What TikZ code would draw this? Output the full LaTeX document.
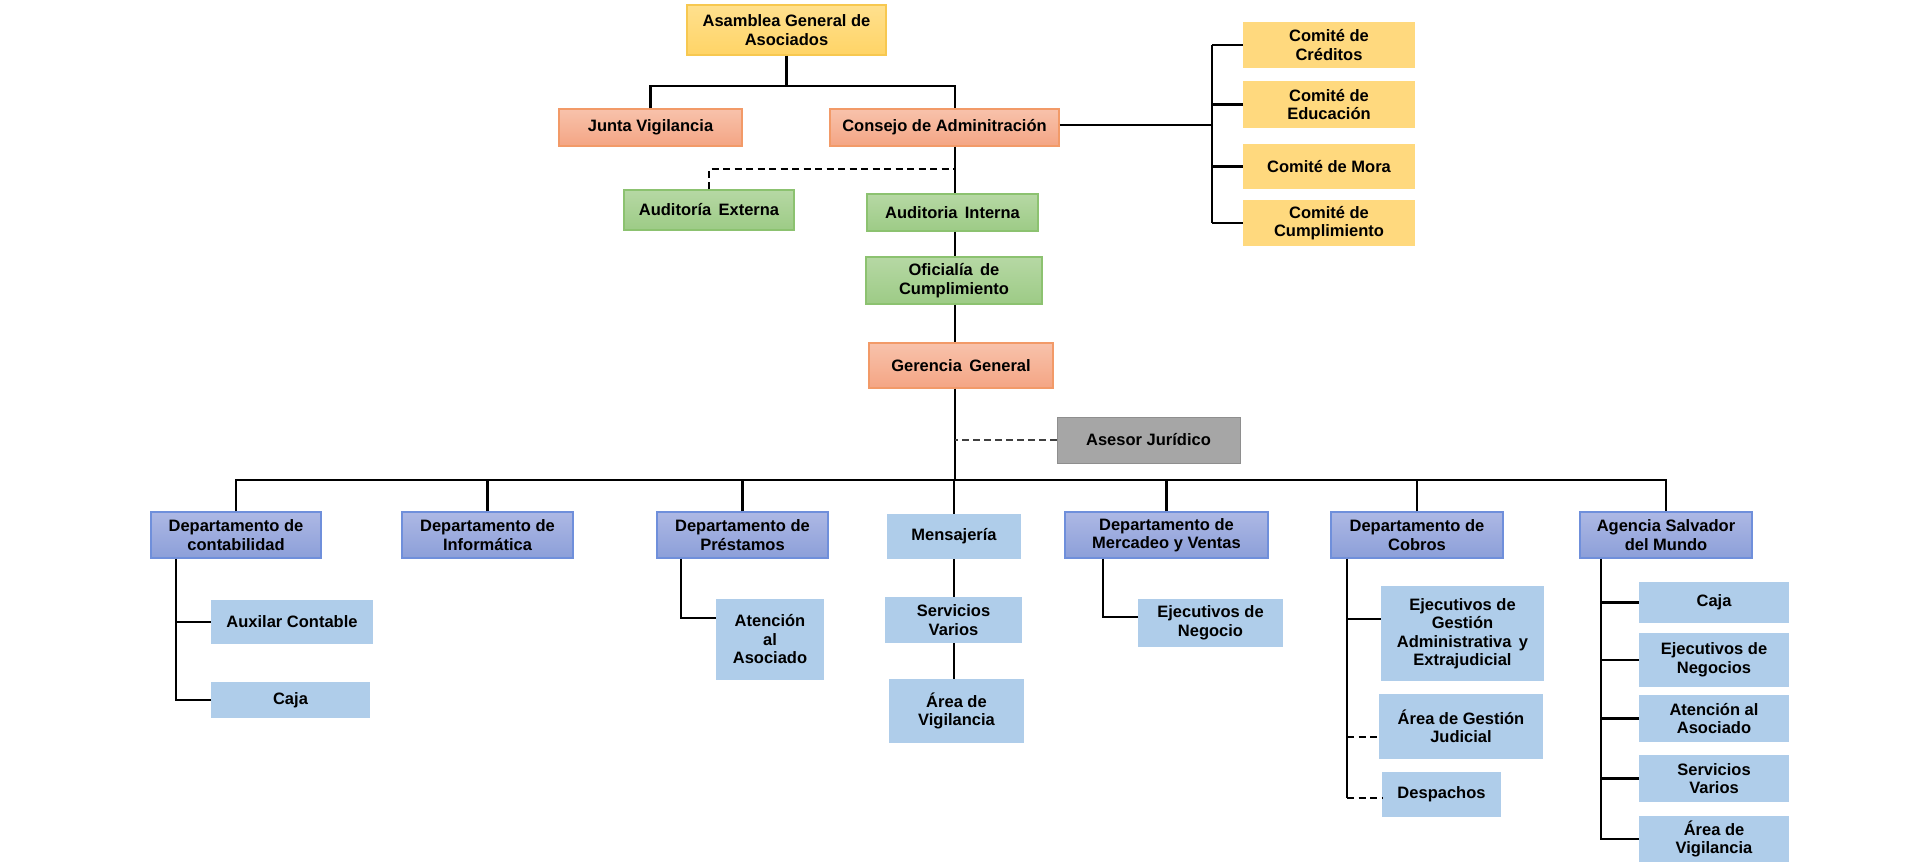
\documentclass[tikz,border=0pt]{standalone}
\usepackage{fontspec}
\setmainfont{Liberation Sans}
\begin{document}
\begin{tikzpicture}[x=1pt,y=-1pt,
  base/.style={align=center, inner sep=0pt, font=\bfseries\fontsize{16.5}{18.5}\selectfont, text=black},
  yel/.style={base, draw=yelD, line width=1.2pt, top color=ylwT, bottom color=ylwB},
  com/.style={base, fill=ylwC},
  sal/.style={base, draw=salD, line width=1.2pt, top color=salT, bottom color=salB},
  grn/.style={base, draw=grnD, line width=1.2pt, top color=grnT, bottom color=grnB},
  dep/.style={base, draw=depD, line width=1.2pt, top color=depT, bottom color=depB},
  lb/.style={base, fill=lbF},
  gry/.style={base, draw=gryD, line width=1pt, fill=gryF},
  conn/.style={draw=black, line width=2.2pt},
  dconn/.style={draw=black, line width=1.6pt, dash pattern=on 7pt off 4.5pt},
  gconn/.style={draw=black!75, line width=1.3pt, dash pattern=on 7pt off 4pt}
]
\definecolor{yelD}{HTML}{F7C850}
\definecolor{ylwT}{HTML}{FFE08E}
\definecolor{ylwB}{HTML}{FFD466}
\definecolor{ylwC}{HTML}{FFD97E}
\definecolor{salT}{HTML}{F8C2AB}
\definecolor{salB}{HTML}{F4A584}
\definecolor{salD}{HTML}{F29A68}
\definecolor{grnT}{HTML}{B6D8A4}
\definecolor{grnB}{HTML}{9DCB86}
\definecolor{grnD}{HTML}{8CC270}
\definecolor{depT}{HTML}{ADB8E4}
\definecolor{depB}{HTML}{8C9FD9}
\definecolor{depD}{HTML}{6F8FDB}
\definecolor{lbF}{HTML}{AFCDEA}
\definecolor{gryF}{HTML}{A6A6A6}
\definecolor{gryD}{HTML}{8E8E8E}

\useasboundingbox (0,0) rectangle (1920,864);

% top level
\node[yel, minimum width=199pt, minimum height=50pt] (asamblea) at (786.5,30) {Asamblea General de\\Asociados};
\node[sal, minimum width=183pt, minimum height=37pt] (junta) at (650.5,127.5) {Junta Vigilancia};
\node[sal, minimum width=229pt, minimum height=37pt] (consejo) at (944.5,127.5) {Consejo de Adminitración};
\node[grn, minimum width=170pt, minimum height=40pt] (audext) at (709,210) {Auditoría\, Externa};
\node[grn, minimum width=171pt, minimum height=37pt] (audint) at (952.5,212.5) {Auditoria\, Interna};
\node[grn, minimum width=176pt, minimum height=47pt] (ofic) at (954,280.5) {Oficialía\, de\\Cumplimiento};
\node[sal, minimum width=184pt, minimum height=45pt] (ger) at (961,365.5) {Gerencia\, General};
\node[gry, minimum width=183pt, minimum height=46pt] (asesor) at (1148.5,440) {Asesor Jurídico};

% committees
\node[com, minimum width=172pt, minimum height=46pt] (cred) at (1329,45) {Comité de\\Créditos};
\node[com, minimum width=172pt, minimum height=47pt] (edu) at (1329,104.5) {Comité de\\Educación};
\node[com, minimum width=172pt, minimum height=45pt] (mora) at (1329,166.5) {Comité de Mora};
\node[com, minimum width=172pt, minimum height=46pt] (cump) at (1329,223) {Comité de\\Cumplimiento};

% departments
\node[dep, minimum width=170pt, minimum height=46pt] (contab) at (236,535) {Departamento de\\contabilidad};
\node[dep, minimum width=171pt, minimum height=46pt] (inform) at (487.5,535) {Departamento de\\Informática};
\node[dep, minimum width=171pt, minimum height=46pt] (prest) at (742.5,535) {Departamento de\\Préstamos};
\node[lb, minimum width=134pt, minimum height=45pt] (mens) at (954,536.5) {Mensajería};
\node[dep, minimum width=203pt, minimum height=46pt] (merc) at (1166.5,535) {Departamento de\\Mercadeo y Ventas};
\node[dep, minimum width=172pt, minimum height=46pt] (cobros) at (1417,535) {Departamento de\\Cobros};
\node[dep, minimum width=172pt, minimum height=46pt] (agencia) at (1666,535) {Agencia Salvador\\del Mundo};

% sub units
\node[lb, minimum width=162pt, minimum height=44pt] (auxc) at (292,622) {Auxilar Contable};
\node[lb, minimum width=159pt, minimum height=36pt] (caja1) at (290.5,700) {Caja};
\node[lb, minimum width=108pt, minimum height=81pt] (atenp) at (770,639.5) {Atención\\al\\Asociado};
\node[lb, minimum width=137pt, minimum height=46pt] (servm) at (953.5,620) {Servicios\\Varios};
\node[lb, minimum width=135pt, minimum height=64pt] (vigm) at (956.5,711) {Área de\\Vigilancia};
\node[lb, minimum width=145pt, minimum height=48pt] (ejneg) at (1210.5,623) {Ejecutivos de\\Negocio};
\node[lb, minimum width=163pt, minimum height=95pt] (ejgest) at (1462.5,633.5) {Ejecutivos de\\Gestión\\Administrativa\, y\\Extrajudicial};
\node[lb, minimum width=164pt, minimum height=65pt] (agj) at (1461,726.5) {Área de Gestión\\Judicial};
\node[lb, minimum width=119pt, minimum height=45pt] (desp) at (1441.5,794.5) {Despachos};
\node[lb, minimum width=150pt, minimum height=41pt] (caja2) at (1714,602.5) {Caja};
\node[lb, minimum width=150pt, minimum height=54pt] (ejnegs) at (1714,660) {Ejecutivos de\\Negocios};
\node[lb, minimum width=150pt, minimum height=47pt] (atena) at (1714,718.5) {Atención al\\Asociado};
\node[lb, minimum width=150pt, minimum height=47pt] (serva) at (1714,778.5) {Servicios\\Varios};
\node[lb, minimum width=150pt, minimum height=46pt] (viga) at (1714,839) {Área de\\Vigilancia};

% helper coordinates
\coordinate (ct) at (955,86);
\coordinate (ce) at (955,169);
\coordinate (cx) at (1212,125);
\coordinate (ce2) at ([yshift=2.5pt]consejo.east);
\coordinate (bus) at (955,480);
\coordinate (cbx) at ([xshift=-60pt]contab.south);
\coordinate (pbx) at ([xshift=-61.5pt]prest.south);
\coordinate (pa) at ([yshift=21.5pt]atenp.west);
\coordinate (mbx) at ([xshift=-63.5pt]merc.south);
\coordinate (mn) at ([yshift=6pt]ejneg.west);
\coordinate (kbx) at ([xshift=-70pt]cobros.south);
\coordinate (eg) at ([yshift=14.5pt]ejgest.west);
\coordinate (gj) at ([yshift=-10.5pt]agj.west);
\coordinate (dp) at ([yshift=-3.5pt]desp.west);
\coordinate (abx) at ([xshift=-65pt]agencia.south);

% top connectors
\draw[conn] (asamblea.south) -- (asamblea.south |- ct);
\draw[conn] (junta.north) |- (ct) -- (consejo.north -| ct);
\draw[conn] (consejo.south -| ct) -- (audint.north -| ct);
\draw[conn] (audint.south -| ct) -- (ofic.north -| ct);
\draw[conn] (ofic.south -| ct) -- (ger.north -| ct);
\draw[conn] (ger.south -| ct) -- (bus);
\draw[dconn] (audext.north) |- (ce);
\draw[gconn] (asesor.west) -- (asesor.west -| ct);

% committees
\draw[conn] (ce2) -- (ce2 -| cx);
\draw[conn] (cred.west -| cx) -- (cump.west -| cx);
\draw[conn] (cred.west) -- (cred.west -| cx);
\draw[conn] (edu.west) -- (edu.west -| cx);
\draw[conn] (mora.west) -- (mora.west -| cx);
\draw[conn] (cump.west) -- (cump.west -| cx);

% bus
\draw[conn] (contab.north) |- (bus) -| (agencia.north);
\draw[conn] (inform.north) -- (inform.north |- bus);
\draw[conn] (prest.north) -- (prest.north |- bus);
\draw[conn] (mens.north) -- (mens.north |- bus);
\draw[conn] (merc.north) -- (merc.north |- bus);
\draw[conn] (cobros.north) -- (cobros.north |- bus);

% contabilidad
\draw[conn] (cbx) |- (caja1.west);
\draw[conn] (cbx |- auxc.west) -- (auxc.west);
% prestamos
\draw[conn] (pbx) |- (pa);
% mensajeria
\draw[conn] (mens.south) -- (mens.south |- servm.north);
\draw[conn] (mens.south |- servm.south) -- (mens.south |- vigm.north);
% mercadeo
\draw[conn] (mbx) |- (mn);
% cobros
\draw[conn] (kbx) -- (kbx |- dp);
\draw[conn] (kbx |- eg) -- (eg);
\draw[dconn] (kbx |- gj) -- (gj);
\draw[dconn] (kbx |- dp) -- (dp);
% agencia
\draw[conn] (abx) |- (viga.west);
\draw[conn] (abx |- caja2.west) -- (caja2.west);
\draw[conn] (abx |- ejnegs.west) -- (ejnegs.west);
\draw[conn] (abx |- atena.west) -- (atena.west);
\draw[conn] (abx |- serva.west) -- (serva.west);
\end{tikzpicture}
\end{document}
